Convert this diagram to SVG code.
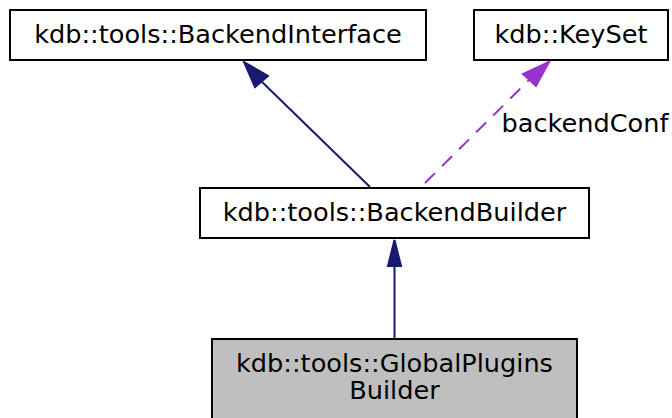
<svg xmlns="http://www.w3.org/2000/svg" width="672" height="418" viewBox="0 0 672 418">
<style>
.box{fill:#ffffff;stroke:#000000;stroke-width:2}
.sel{fill:#bfbfbf;stroke:#000000;stroke-width:2}
text{font-family:"DejaVu Sans",sans-serif;font-size:25.6px;fill:#000000;text-anchor:middle}
.inh{stroke:#191970;stroke-width:2;fill:none}
.inhh{fill:#191970;stroke:#191970;stroke-width:2}
.use{stroke:#9a32cd;stroke-width:2;fill:none;stroke-dasharray:14,10}
.useh{fill:#9a32cd;stroke:#9a32cd;stroke-width:2}
</style>
<rect width="672" height="418" fill="#ffffff"/>
<g id="edges">
<path class="inh" d="M370,187 L259,79"/>
<polygon class="inhh" points="244,62 268,76 255,87"/>
<path class="use" d="M425,183 L531,78"/>
<polygon class="useh" points="549,62 536,86 523,74"/>
<text x="585" y="132">backendConf</text>
<path class="inh" d="M394.5,339 L394.5,264"/>
<polygon class="inhh" points="394.5,240 401,266 388,266"/>
</g>
<g id="BackendInterface">
<rect class="box" x="10" y="10" width="416" height="50"/>
<text x="218" y="43">kdb::tools::BackendInterface</text>
</g>
<g id="KeySet">
<rect class="box" x="474" y="10" width="194" height="50"/>
<text x="571" y="43">kdb::KeySet</text>
</g>
<g id="BackendBuilder">
<rect class="box" x="200" y="188" width="389" height="50"/>
<text x="394.5" y="221">kdb::tools::BackendBuilder</text>
</g>
<g id="GlobalPluginsBuilder">
<rect class="sel" x="212" y="339" width="365" height="90"/>
<text x="394.5" y="372">kdb::tools::GlobalPlugins</text>
<text x="394.5" y="399">Builder</text>
</g>
</svg>
